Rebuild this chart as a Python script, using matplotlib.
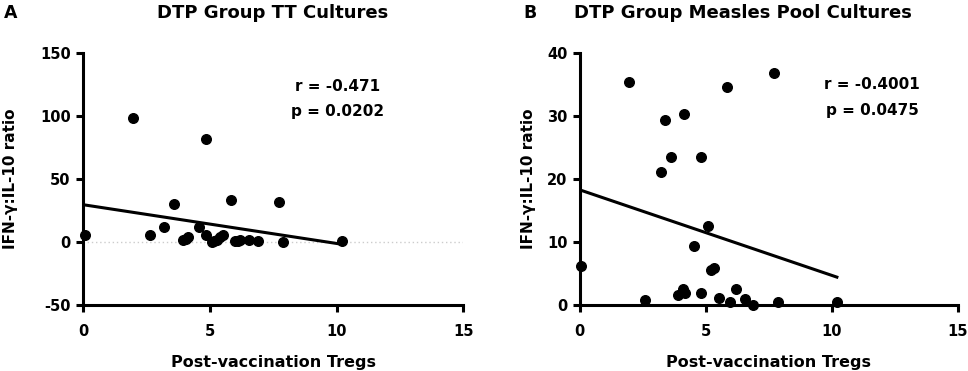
import matplotlib
matplotlib.use("Agg")
import matplotlib.pyplot as plt
import numpy as np

# Panel A data
a_x = [0.05, 1.97, 2.63, 3.2, 3.57, 3.92, 4.05, 4.14, 4.58, 4.84, 4.84, 5.08, 5.18, 5.26, 5.4, 5.53, 5.84, 5.99, 6.1, 6.18, 6.55, 6.88, 7.74, 7.9, 10.22]
a_y = [5.8, 98.5, 5.3, 11.9, 30.5, 1.3, 2.5, 4.0, 11.7, 82.0, 5.8, 0.0, 1.0, 1.9, 4.0, 5.8, 33.4, 0.5, 1.0, 1.9, 1.3, 0.5, 31.5, 0.0, 1.0]
a_fit = (29.7, -3.08)  # intercept, slope
a_title = "DTP Group TT Cultures"
a_stats = "r = -0.471\np = 0.0202"
a_yticks = [-50, 0, 50, 100, 150]

# Panel B data
b_x = [0.05, 1.94, 2.6, 3.21, 3.37, 3.6, 3.9, 4.09, 4.13, 4.17, 4.55, 4.81, 4.81, 5.09, 5.19, 5.32, 5.52, 5.85, 5.95, 6.2, 6.55, 6.88, 7.72, 7.87, 10.2]
b_y = [6.2, 35.5, 0.8, 21.2, 29.4, 23.6, 1.6, 2.5, 30.3, 1.9, 9.3, 1.9, 23.5, 12.6, 5.6, 5.9, 1.1, 34.7, 0.5, 2.5, 1.0, 0.0, 36.9, 0.5, 0.5]
b_fit = (18.3, -1.36)
b_title = "DTP Group Measles Pool Cultures"
b_stats = "r = -0.4001\np = 0.0475"
b_yticks = [0, 10, 20, 30, 40]

xticks = [0, 5, 10, 15]
xlabel = "Post-vaccination Tregs"
ylabel = "IFN-\u03b3:IL-10 ratio"

plt.rcParams['font.family'] = ['DejaVu Sans']
plt.rcParams['font.weight'] = 'bold'
plt.rcParams['axes.unicode_minus'] = False

fig = plt.figure(figsize=(9.68, 3.71), dpi=100)
axA = fig.add_axes([0.086, 0.178, 0.3926, 0.678])
axB = fig.add_axes([0.599, 0.178, 0.3905, 0.678])


def style(ax, ylim, yticks, ylabelpad):
    ax.set_xlim(0, 15)
    ax.set_ylim(*ylim)
    ax.set_xticks(xticks)
    ax.set_yticks(yticks)
    for s in ['top', 'right']:
        ax.spines[s].set_visible(False)
    for s in ['left', 'bottom']:
        ax.spines[s].set_linewidth(2.2)
    ax.tick_params(axis='x', width=2.2, length=5, labelsize=10.5, pad=9)
    ax.tick_params(axis='y', width=2.2, length=5, labelsize=10.5, pad=4)
    for lab in ax.get_xticklabels() + ax.get_yticklabels():
        lab.set_fontweight('bold')
    ax.set_xlabel(xlabel, fontsize=11.5, fontweight='bold', labelpad=11)
    ax.set_ylabel(ylabel, fontsize=11, fontweight='bold', labelpad=ylabelpad)


# Panel A
axA.axhline(0, color='#cccccc', lw=1, ls=(0, (1, 2)), zorder=0)
axA.scatter(a_x, a_y, s=48, color='black', zorder=3, clip_on=False)
xx = np.array([min(a_x), max(a_x)])
axA.plot(xx, a_fit[0] + a_fit[1] * xx, color='black', lw=2.2)
style(axA, (-50, 150), a_yticks, 16)
axA.text(10.05, 114, a_stats, ha='center', va='center', fontsize=11,
         fontweight='bold', linespacing=1.85)

# Panel B
axB.scatter(b_x, b_y, s=48, color='black', zorder=3, clip_on=False)
xx = np.array([min(b_x), max(b_x)])
axB.plot(xx, b_fit[0] + b_fit[1] * xx, color='black', lw=2.2)
style(axB, (0, 40), b_yticks, 8)
axB.text(11.6, 33.0, b_stats, ha='center', va='center', fontsize=11,
         fontweight='bold', linespacing=1.85)

fig.text(0.004, 0.988, "A", fontsize=12.5, fontweight='bold', va='top', ha='left')
fig.text(0.541, 0.988, "B", fontsize=12.5, fontweight='bold', va='top', ha='left')
fig.text(0.282, 0.988, a_title, fontsize=13, fontweight='bold', va='top', ha='center')
fig.text(0.768, 0.988, b_title, fontsize=13, fontweight='bold', va='top', ha='center')

fig.savefig("out.png", dpi=100)
